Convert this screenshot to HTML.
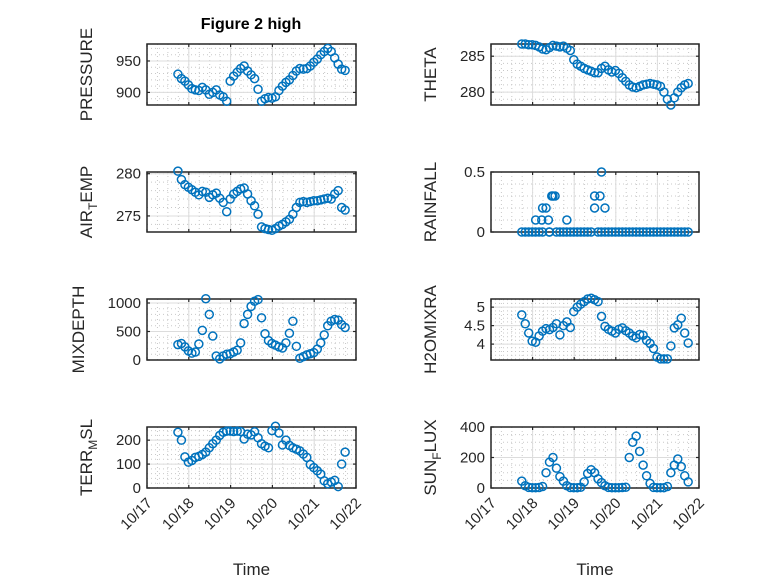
<!DOCTYPE html>
<html><head><meta charset="utf-8"><style>
html,body{margin:0;padding:0;background:#fff;}
svg{display:block;font-family:"Liberation Sans",sans-serif;}
</style></head><body>
<svg id="fig" width="778" height="583" viewBox="0 0 778 583" xmlns="http://www.w3.org/2000/svg">
<rect width="778" height="583" fill="#fff"/>
<text x="251" y="29" text-anchor="middle" font-size="16" font-weight="bold" fill="#000">Figure 2 high</text>
</svg>
<script>
const times=[];for(let i=0;i<49;i++)times.push(17.74+i/12);
const xTickLabels=["10/17","10/18","10/19","10/20","10/21","10/22"];
const xTickDays=[17,18,19,20,21,22];
const pressure=[929,922,918,912,906,904,903,908,904,897,900,904,896,893,886,918,926,932,938,942,934,928,922,905,886,890,892,891,893,903,910,916,920,927,934,938,937,938,942,948,953,960,965,970,965,955,945,937,935];
const theta=[286.7,286.7,286.6,286.6,286.5,286.3,286.0,285.9,286.2,286.5,286.4,286.3,286.4,286.1,285.8,284.5,283.9,283.6,283.3,283.1,282.9,282.7,282.7,283.3,283.6,283.1,282.8,283.0,282.6,282.0,281.5,281.0,280.7,280.6,280.8,281.0,281.1,281.2,281.1,281.0,280.8,280.0,279.0,278.2,279.2,280.0,280.6,281.0,281.2];
const airTemp=[280.3,279.3,278.7,278.4,278.1,277.8,277.5,277.9,277.8,277.2,277.5,277.7,277.1,276.6,275.5,277.0,277.6,277.9,278.2,278.3,277.6,276.8,276.2,275.2,273.7,273.5,273.4,273.3,273.5,273.8,274.0,274.3,274.6,275.2,276.0,276.6,276.7,276.6,276.7,276.8,276.8,276.9,277.0,277.1,277.0,277.6,278.0,276.0,275.7];
const rainfall=[0,0,0,0,0.1,0,0.2,0.2,0,0.3,0,0,0,0.1,0,0,0,0,0,0,0,0.3,0,0.5,0.2,0,0,0,0,0,0,0,0,0,0,0,0,0,0,0,0,0,0,0,0,0,0,0,0];
const rainExtraT=[18.07,18.22,18.24,18.38,18.4,18.46,18.54,19.49,19.62,19.74,19.65,18.82];
const rainExtraV=[0,0.1,0,0.1,0,0.3,0.3,0.2,0.3,0,0,0];
const mixDepth=[270,290,230,160,120,140,280,520,1075,800,420,70,20,70,100,110,140,170,300,640,800,940,1030,1060,740,460,340,290,260,230,210,300,470,680,240,30,60,90,110,130,190,300,440,600,680,710,700,620,570];
const h2oMix=[4.79,4.55,4.3,4.08,4.05,4.22,4.35,4.42,4.39,4.45,4.55,4.25,4.5,4.6,4.45,4.88,5.0,5.08,5.15,5.22,5.24,5.2,5.15,4.75,4.48,4.4,4.35,4.3,4.4,4.44,4.36,4.3,4.22,4.17,4.26,4.24,4.1,4.02,3.88,3.65,3.6,3.6,3.6,3.95,4.44,4.52,4.7,4.3,4.03];
const terrMsl=[233,200,130,108,115,128,132,140,150,168,185,200,220,233,238,238,236,238,236,205,225,222,235,210,185,175,168,240,258,230,180,200,178,168,162,155,142,128,98,85,72,58,30,18,25,32,6,100,150];
const sunFlux=[45,15,4,2,2,3,10,100,170,200,130,75,45,15,3,2,2,5,40,95,120,100,60,35,15,4,2,2,2,3,5,200,300,340,240,150,80,30,4,2,2,2,10,100,150,190,140,80,40];

const NS="http://www.w3.org/2000/svg";
const svg=document.getElementById('fig');
function el(tag,attrs,parent){const e=document.createElementNS(NS,tag);for(const k in attrs)e.setAttribute(k,attrs[k]);(parent||svg).appendChild(e);return e;}
const DARK="#262626";

function panel(cfg){
  const g=el('g',{});
  
  
  const {x0,x1,y0,y1,ymin,ymax}=cfg;
  const xs=t=>x0+(t-17)/5*(x1-x0);
  const ys=v=>y1-(v-ymin)/(ymax-ymin)*(y1-y0);
  for(let t=17;t<=22.001;t+=0.25){const x=xs(t);el('line',{x1:x,x2:x,y1:y0,y2:y1,stroke:"#c8c8c8","stroke-width":1,"stroke-dasharray":"1 3"},g);}
  for(let v=cfg.minorStart;v<=ymax;v+=cfg.minor){if(v<ymin)continue;const y=ys(v);el('line',{x1:x0,x2:x1,y1:y,y2:y,stroke:"#c8c8c8","stroke-width":1,"stroke-dasharray":"1 3"},g);}
  xTickDays.forEach(d=>{const x=xs(d);el('line',{x1:x,x2:x,y1:y0,y2:y1,stroke:"#dcdcdc","stroke-width":1},g);});
  cfg.ticks.forEach(v=>{const y=ys(v);el('line',{x1:x0,x2:x1,y1:y,y2:y,stroke:"#dcdcdc","stroke-width":1},g);});
  el('rect',{x:x0,y:y0,width:x1-x0,height:y1-y0,fill:"none",stroke:DARK,"stroke-width":1.5},g);
  xTickDays.forEach(d=>{const x=xs(d);el('line',{x1:x,x2:x,y1:y1,y2:y1-3,stroke:DARK,"stroke-width":1.2},g);el('line',{x1:x,x2:x,y1:y0,y2:y0+3,stroke:DARK,"stroke-width":1.2},g);});
  cfg.ticks.forEach((v,i)=>{const y=ys(v);
    el('line',{x1:x0,x2:x0+3,y1:y,y2:y,stroke:DARK,"stroke-width":1.2},g);
    el('line',{x1:x1,x2:x1-3,y1:y,y2:y,stroke:DARK,"stroke-width":1.2},g);
    const tx=el('text',{x:x0-6,y:y+5,"text-anchor":"end","font-size":15,fill:DARK},g);
    
    
    tx.textContent=cfg.tickLabels[i];});
  const cy=(y0+y1)/2, lx=x0-cfg.labelOff;
  const yl=el('text',{x:lx,y:cy,"text-anchor":"middle","font-size":17,fill:DARK,transform:`rotate(-90 ${lx} ${cy})`},g);
  
  
  if(cfg.sub){
    const a=el('tspan',{},yl);a.textContent=cfg.sub[0];
    const b=el('tspan',{dy:5,"font-size":12},yl);b.textContent=cfg.sub[1];
    const c=el('tspan',{dy:-5},yl);c.textContent=cfg.sub[2];
  } else yl.textContent=cfg.label;
  if(cfg.bottom){
    xTickDays.forEach((d,i)=>{const x=xs(d)+6,y=y1+16;
      const tx=el('text',{x:x,y:y,"text-anchor":"end","font-size":15,fill:DARK,transform:`rotate(-45 ${x} ${y})`},g);
      
      
      tx.textContent=xTickLabels[i];});
    const xt=el('text',{x:(x0+x1)/2,y:575,"text-anchor":"middle","font-size":17,fill:DARK},g);
    
    
    xt.textContent="Time";
  }
  const pts=el('g',{},g);
  
  
  const drawPt=(t,v)=>{const c=el('circle',{cx:xs(t),cy:ys(v),r:4,fill:"none",stroke:"#0072BD","stroke-width":1.5},pts);
    
    };
  cfg.values.forEach((v,i)=>drawPt(times[i],v));
  if(cfg.extraT)cfg.extraT.forEach((t,i)=>drawPt(t,cfg.extraV[i]));
}
const L={x0:147,x1:356}, R={x0:491,x1:699};
const rows=[[44,105],[172,232],[299,360],[427,488]];
panel({name:'pressure',...L,y0:rows[0][0],y1:rows[0][1],ymin:880,ymax:977,ticks:[900,950],tickLabels:["900","950"],minor:10,minorStart:880,label:"PRESSURE",labelOff:55,values:pressure});
panel({name:'theta',...R,y0:rows[0][0],y1:rows[0][1],ymin:278.2,ymax:286.7,ticks:[280,285],tickLabels:["280","285"],minor:1,minorStart:279,label:"THETA",labelOff:55,values:theta});
panel({name:'air-temp',...L,y0:rows[1][0],y1:rows[1][1],ymin:273.1,ymax:280.2,ticks:[275,280],tickLabels:["275","280"],minor:1,minorStart:274,sub:["AIR","T","EMP"],labelOff:55,values:airTemp});
panel({name:'rainfall',...R,y0:rows[1][0],y1:rows[1][1],ymin:0,ymax:0.5,ticks:[0,0.5],tickLabels:["0","0.5"],minor:0.1,minorStart:0.1,label:"RAINFALL",labelOff:55,values:rainfall,extraT:rainExtraT,extraV:rainExtraV});
panel({name:'mixdepth',...L,y0:rows[2][0],y1:rows[2][1],ymin:0,ymax:1070,ticks:[0,500,1000],tickLabels:["0","500","1000"],minor:100,minorStart:100,label:"MIXDEPTH",labelOff:63,values:mixDepth});
panel({name:'h2omixra',...R,y0:rows[2][0],y1:rows[2][1],ymin:3.57,ymax:5.22,ticks:[4,4.5,5],tickLabels:["4","4.5","5"],minor:0.1,minorStart:3.6,label:"H2OMIXRA",labelOff:55,values:h2oMix});
panel({name:'terr-msl',...L,y0:rows[3][0],y1:rows[3][1],ymin:0,ymax:255,ticks:[0,100,200],tickLabels:["0","100","200"],minor:20,minorStart:20,sub:["TERR","M","SL"],labelOff:55,values:terrMsl,bottom:true});
panel({name:'sun-flux',...R,y0:rows[3][0],y1:rows[3][1],ymin:0,ymax:400,ticks:[0,200,400],tickLabels:["0","200","400"],minor:50,minorStart:50,sub:["SUN","F","LUX"],labelOff:55,values:sunFlux,bottom:true});
</script>
</body></html>
